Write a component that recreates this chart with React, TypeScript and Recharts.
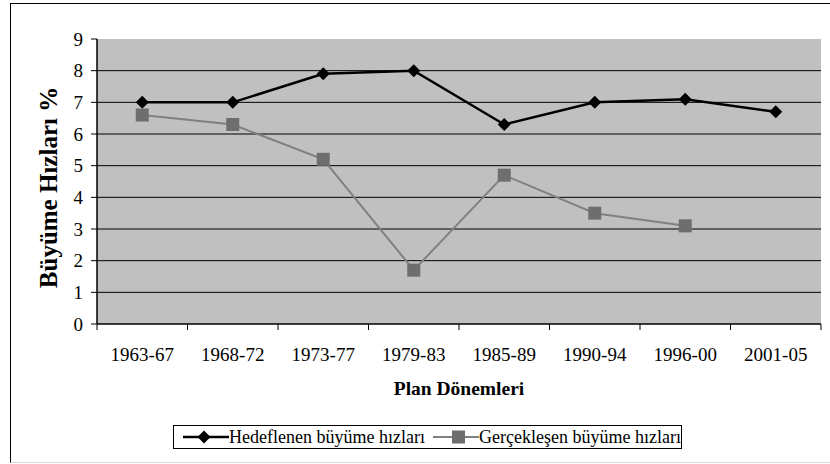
import React from 'react';
import { LineChart, Line, XAxis, YAxis, CartesianGrid } from 'recharts';

const categories = ['1963-67', '1968-72', '1973-77', '1979-83', '1985-89', '1990-94', '1996-00', '2001-05'];
const hedeflenen: number[] = [7, 7, 7.9, 8, 6.3, 7, 7.1, 6.7];
const gerceklesen: (number | null)[] = [6.6, 6.3, 5.2, 1.7, 4.7, 3.5, 3.1, null];
const yTicks = [0, 1, 2, 3, 4, 5, 6, 7, 8, 9];
const gridValues = [1, 2, 3, 4, 5, 6, 7, 8];
const seriesNames = ['Hedeflenen büyüme hızları', 'Gerçekleşen büyüme hızları'];
const yTitle = 'Büyüme Hızları %';
const xTitle = 'Plan Dönemleri';

const data = categories.map((c, i) => ({ period: c, hedef: hedeflenen[i], gercek: gerceklesen[i] }));

const FONT = '"Liberation Serif", "Times New Roman", serif';
const TICK_SIZE = 6;

const XTick = (props: any) => {
  const { x, y, payload, index, visibleTicksCount } = props;
  const axisY = y - TICK_SIZE;
  const half = payload && payload.offset ? payload.offset : 0;
  const last = index === (visibleTicksCount ?? categories.length) - 1;
  return (
    <g>
      <line x1={x - half} x2={x - half} y1={axisY} y2={axisY + TICK_SIZE} stroke="#000" />
      {last && <line x1={x + half} x2={x + half} y1={axisY} y2={axisY + TICK_SIZE} stroke="#000" />}
      <text x={x} y={axisY + 37} textAnchor="middle" fontFamily={FONT} fontSize={19} fill="#000">
        {payload.value}
      </text>
    </g>
  );
};

const YTitle = (props: any) => {
  const vb = props.viewBox || {};
  const cx = (vb.x ?? 0) + 48;
  const cy = (vb.y ?? 0) + (vb.height ?? 0) / 2 + 6;
  return (
    <text
      x={cx}
      y={cy}
      transform={`rotate(-90, ${cx}, ${cy})`}
      textAnchor="middle"
      dominantBaseline="central"
      fontFamily={FONT}
      fontSize={25}
      fontWeight="bold"
      fill="#000"
    >
      {yTitle}
    </text>
  );
};

const XTitle = (props: any) => {
  const vb = props.viewBox || {};
  const cx = (vb.x ?? 0) + (vb.width ?? 0) / 2;
  const by = (vb.y ?? 0) + 71;
  return (
    <text x={cx} y={by} textAnchor="middle" fontFamily={FONT} fontSize={19.5} fontWeight="bold" fill="#000">
      {xTitle}
    </text>
  );
};

const Diamond = (p: any) => {
  const { cx, cy, index } = p;
  if (cx == null || cy == null) return <g key={`dm-${index}`} />;
  const r = 6.5;
  return (
    <path
      key={`dm-${index}`}
      d={`M${cx},${cy - r}L${cx + r},${cy}L${cx},${cy + r}L${cx - r},${cy}Z`}
      fill="#000"
      stroke="none"
    />
  );
};

const Square = (p: any) => {
  const { cx, cy, index } = p;
  if (cx == null || cy == null) return <g key={`sq-${index}`} />;
  const r = 6.5;
  return <rect key={`sq-${index}`} x={cx - r} y={cy - r} width={2 * r} height={2 * r} fill="#6E6E6E" stroke="none" />;
};

export default function App() {
  return (
    <div style={{ position: 'absolute', left: 0, top: 0, width: 830, height: 464, overflow: 'hidden', background: '#fff' }}>
      <div
        style={{
          position: 'absolute',
          left: 10,
          top: 3,
          width: 840,
          height: 458,
          borderLeft: '1px solid #000',
          borderTop: '1px solid #000',
          borderBottom: '1px solid #d8d8d8',
        }}
      />
      <div style={{ position: 'absolute', left: 0, top: 0 }}>
        <LineChart width={830} height={464} data={data} margin={{ top: 39, right: 9, left: 0, bottom: 110 }}>
          <CartesianGrid
            horizontal
            vertical={false}
            horizontalValues={gridValues}
            fill="#C0C0C0"
            fillOpacity={1}
            stroke="#000"
            strokeWidth={1}
          />
          <XAxis
            dataKey="period"
            scale="band"
            height={30}
            tickSize={TICK_SIZE}
            tickMargin={0}
            tickLine={false}
            axisLine={{ stroke: '#000', strokeWidth: 1.5 }}
            tick={<XTick />}
            interval={0}
            label={<XTitle />}
          />
          <XAxis
            xAxisId="top"
            dataKey="period"
            scale="band"
            orientation="top"
            height={0}
            tick={false}
            tickLine={false}
            axisLine={{ stroke: '#8C8C8C', strokeWidth: 1.5 }}
          />
          <YAxis
            width={97}
            domain={[0, 9]}
            ticks={yTicks}
            interval={0}
            tickSize={6}
            tickMargin={8}
            tickLine={{ stroke: '#000' }}
            axisLine={{ stroke: '#000', strokeWidth: 1.5 }}
            tick={{ fontFamily: FONT, fontSize: 19, fill: '#000' }}
            label={<YTitle />}
          />
          <YAxis
            yAxisId="right"
            orientation="right"
            width={0}
            domain={[0, 9]}
            tick={false}
            tickLine={false}
            axisLine={{ stroke: '#8C8C8C', strokeWidth: 1.5 }}
          />
          <Line
            dataKey="hedef"
            name={seriesNames[0]}
            stroke="#000"
            strokeWidth={2.5}
            dot={Diamond}
            activeDot={false}
            isAnimationActive={false}
          />
          <Line
            dataKey="gercek"
            name={seriesNames[1]}
            stroke="#808080"
            strokeWidth={2}
            dot={Square}
            activeDot={false}
            isAnimationActive={false}
          />
        </LineChart>
      </div>
      <div
        style={{
          position: 'absolute',
          left: 173,
          top: 425,
          width: 507,
          height: 22,
          border: '1px solid #000',
          display: 'flex',
          alignItems: 'center',
          fontFamily: FONT,
          fontSize: 18,
          color: '#000',
          whiteSpace: 'nowrap',
        }}
      >
        <svg width={48} height={14} style={{ marginLeft: 9 }}>
          <line x1={0} x2={46} y1={7} y2={7} stroke="#000" strokeWidth={2.5} />
          <path d="M21,0.5L27.5,7L21,13.5L14.5,7Z" fill="#000" />
        </svg>
        <span>{seriesNames[0]}</span>
        <svg width={48} height={14} style={{ marginLeft: 8 }}>
          <line x1={0} x2={46} y1={7} y2={7} stroke="#808080" strokeWidth={2} />
          <rect x={19} y={0.5} width={13} height={13} fill="#6E6E6E" />
        </svg>
        <span>{seriesNames[1]}</span>
      </div>
    </div>
  );
}
